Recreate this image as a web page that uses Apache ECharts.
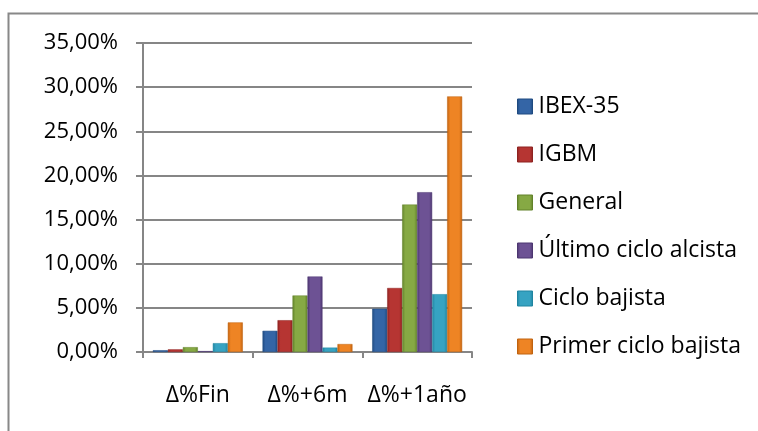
<!DOCTYPE html>
<html><head><meta charset="utf-8">
<script src="https://cdn.jsdelivr.net/npm/echarts@6/dist/echarts.min.js"></script>
<style>html,body{margin:0;padding:0;background:#fff}#c{width:758px;height:431px}</style>
</head><body><div id="c"></div>
<script>
const categories = ['Δ%Fin', 'Δ%+6m', 'Δ%+1año'];
const seriesNames = ['IBEX-35', 'IGBM', 'General', 'Último ciclo alcista', 'Ciclo bajista', 'Primer ciclo bajista'];
const ibex = [0.2, 2.4, 4.9];
const igbm = [0.3, 3.6, 7.25];
const general = [0.55, 6.4, 16.7];
const ultimo = [0.1, 8.55, 18.1];
const cicloBajista = [1.0, 0.5, 6.55];
const primer = [3.35, 0.9, 28.95];
const yTicks = [0, 5, 10, 15, 20, 25, 30, 35];

const values = [ibex, igbm, general, ultimo, cicloBajista, primer];
const colors = [
  ['#1f4a80', '#3465a6'],
  ['#8e2220', '#b63532'],
  ['#62822a', '#86a944'],
  ['#4c3670', '#6d5294'],
  ['#1f84a0', '#36a3c2'],
  ['#c0620f', '#ee8424']
];
function grad(c) {
  return new echarts.graphic.LinearGradient(0, 0, 1, 0, [
    {offset: 0, color: c[0]}, {offset: 0.2, color: c[1]}, {offset: 0.8, color: c[1]}, {offset: 1, color: c[0]}
  ]);
}
const font = 'Open Sans, Noto Sans, sans-serif';
const chart = echarts.init(document.getElementById('c'));
chart.setOption({
  animation: false,
  graphic: [{type: 'rect', shape: {x: 8.5, y: 13.5, width: 760, height: 430}, style: {fill: 'none', stroke: '#888', lineWidth: 2}}],
  grid: {left: 143, right: 286, top: 43, bottom: 79},
  legend: {
    orient: 'vertical', left: 512, top: 90, itemWidth: 15, itemHeight: 15, itemGap: 25,
    icon: 'rect',
    textStyle: {fontFamily: font, fontSize: 23, color: '#000', padding: [0, 0, 0, 1]},
    data: seriesNames.map((n, i) => ({name: n, itemStyle: {color: grad(colors[i]), borderColor: colors[i][0], borderWidth: 1}}))
  },
  xAxis: {
    type: 'category', data: categories,
    axisLine: {lineStyle: {color: '#868686', width: 2}},
    axisTick: {show: true, length: 6, lineStyle: {color: '#868686', width: 2}},
    axisLabel: {fontFamily: font, fontSize: 23, color: '#000', margin: 32, interval: 0}
  },
  yAxis: {
    type: 'value', min: 0, max: 35, interval: 5,
    axisLine: {show: true, lineStyle: {color: '#868686', width: 2}},
    axisTick: {show: true, length: 7, lineStyle: {color: '#868686', width: 2}},
    splitLine: {lineStyle: {color: '#868686', width: 2}},
    axisLabel: {fontFamily: font, fontSize: 22, color: '#000', margin: 25,
      formatter: v => yTicks.includes(v) ? v.toFixed(2).replace('.', ',') + '%' : ''}
  },
  series: seriesNames.map((n, i) => ({
    name: n, type: 'bar', data: values[i], barGap: '0%', barCategoryGap: '18%',
    itemStyle: {color: grad(colors[i]), borderColor: colors[i][0], borderWidth: 0.5}
  }))
});
</script></body></html>
